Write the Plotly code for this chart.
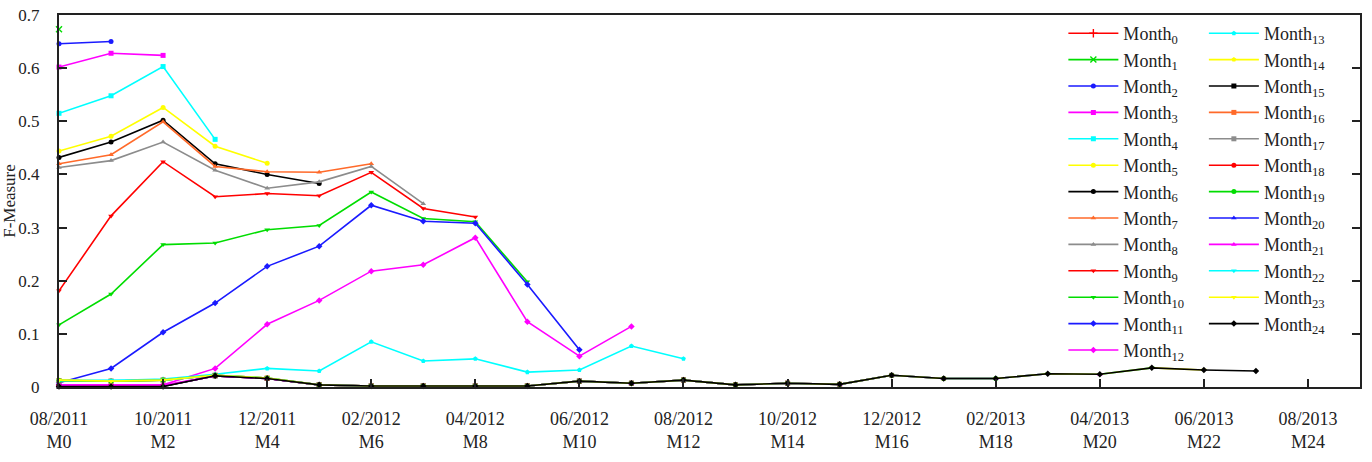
import plotly.graph_objects as go

# ---- data (F-Measure per test month, one series per model month) ----
month0 = [None]
month1 = [0.673]
month2 = [0.646, 0.650]
month3 = [0.602, 0.628, 0.624]
month4 = [0.515, 0.548, 0.603, 0.466]
month5 = [0.444, 0.472, 0.526, 0.453, 0.421]
month6 = [0.432, 0.461, 0.502, 0.420, 0.400, 0.383]
month7 = [0.420, 0.437, 0.499, 0.415, 0.405, 0.404, 0.420]
month8 = [0.413, 0.426, 0.461, 0.408, 0.374, 0.386, 0.415, 0.345]
month9 = [0.181, 0.322, 0.424, 0.358, 0.364, 0.360, 0.404, 0.336, 0.320]
month10 = [0.117, 0.175, 0.268, 0.271, 0.296, 0.304, 0.367, 0.317, 0.311, 0.198]
month11 = [0.008, 0.035, 0.103, 0.158, 0.227, 0.265, 0.342, 0.312, 0.308, 0.193, 0.070]
month12 = [0.004, 0.004, 0.004, 0.035, 0.118, 0.163, 0.218, 0.230, 0.281, 0.123, 0.058, 0.114]
month13 = [0.012, 0.012, 0.015, 0.024, 0.035, 0.030, 0.085, 0.049, 0.053, 0.028, 0.032, 0.077, 0.053]
month14 = [0.013, 0.011, 0.013, 0.022, 0.017, 0.004, 0.002, 0.002, 0.002, 0.002, 0.011, 0.007, 0.013, 0.004]
month15 = [0.001, 0.001, 0.001, 0.021, 0.016, 0.004, 0.002, 0.002, 0.002, 0.002, 0.011, 0.007, 0.013, 0.004, 0.007]
month16 = [0.012, 0.011, 0.013, 0.022, 0.017, 0.004, 0.002, 0.002, 0.002, 0.002, 0.011, 0.007, 0.013, 0.004, 0.007, 0.005]
month17 = [0.012, 0.011, 0.013, 0.022, 0.016, 0.004, 0.002, 0.002, 0.002, 0.002, 0.011, 0.007, 0.013, 0.004, 0.007, 0.005, 0.022]
month18 = [0.002, 0.002, 0.002, 0.021, 0.016, 0.004, 0.002, 0.002, 0.002, 0.002, 0.011, 0.007, 0.013, 0.004, 0.007, 0.005, 0.022, 0.016]
month19 = [0.012, 0.011, 0.013, 0.022, 0.017, 0.004, 0.002, 0.002, 0.002, 0.002, 0.011, 0.007, 0.013, 0.004, 0.007, 0.005, 0.022, 0.016, 0.016]
month20 = [0.002, 0.002, 0.002, 0.021, 0.016, 0.004, 0.002, 0.002, 0.002, 0.002, 0.011, 0.007, 0.013, 0.004, 0.007, 0.005, 0.022, 0.016, 0.016, 0.025]
month21 = [0.003, 0.003, 0.003, 0.021, 0.016, 0.004, 0.002, 0.002, 0.002, 0.002, 0.011, 0.007, 0.013, 0.004, 0.007, 0.005, 0.022, 0.016, 0.016, 0.025, 0.024]
month22 = [0.012, 0.012, 0.013, 0.022, 0.017, 0.004, 0.002, 0.002, 0.002, 0.002, 0.011, 0.007, 0.013, 0.004, 0.007, 0.005, 0.022, 0.016, 0.016, 0.025, 0.024, 0.036]
month23 = [0.013, 0.011, 0.013, 0.022, 0.017, 0.004, 0.002, 0.002, 0.002, 0.002, 0.011, 0.007, 0.013, 0.004, 0.007, 0.005, 0.022, 0.016, 0.016, 0.025, 0.024, 0.036, 0.032]
month24 = [0.001, 0.001, 0.001, 0.021, 0.016, 0.004, 0.002, 0.002, 0.002, 0.002, 0.011, 0.007, 0.013, 0.004, 0.007, 0.005, 0.022, 0.016, 0.016, 0.025, 0.024, 0.036, 0.032, 0.030]

series = [month0, month1, month2, month3, month4, month5, month6, month7, month8,
          month9, month10, month11, month12, month13, month14, month15, month16,
          month17, month18, month19, month20, month21, month22, month23, month24]

tick_months = [0, 2, 4, 6, 8, 10, 12, 14, 16, 18, 20, 22, 24]
tick_dates = ["08/2011", "10/2011", "12/2011", "02/2012", "04/2012", "06/2012", "08/2012",
              "10/2012", "12/2012", "02/2013", "04/2013", "06/2013", "08/2013"]
tick_codes = ["M0", "M2", "M4", "M6", "M8", "M10", "M12", "M14", "M16", "M18", "M20", "M22", "M24"]
y_ticks = [0, 0.1, 0.2, 0.3, 0.4, 0.5, 0.6, 0.7]
y_labels = ["0", "0.1", "0.2", "0.3", "0.4", "0.5", "0.6", "0.7"]

# ---- styles ----
palette = ["#ff0000", "#00dd00", "#1a1aff", "#ff00ff", "#00ffff", "#ffff00",
           "#000000", "#ff6a2a", "#8c8c8c"]
symbols = ["cross-thin", "x-thin", "circle", "square", "square", "circle", "circle",
           "triangle-up", "triangle-up", "triangle-down", "triangle-down", "diamond",
           "diamond", "pentagon", "pentagon", "square", "square", "square", "circle",
           "circle", "triangle-up", "triangle-up", "triangle-down", "triangle-down", "diamond"]

FONT = "Liberation Serif"
TXT = "#222"
fig = go.Figure()
for k, vals in enumerate(series):
    col = palette[k % len(palette)]
    sym = symbols[k]
    thin = sym.endswith("-thin")
    fig.add_trace(go.Scatter(
        x=list(range(len(vals))), y=vals,
        mode="lines+markers",
        name=f"Month<sub>{k}</sub>",
        legend="legend" if k <= 12 else "legend2",
        legendgroup=f"g{k}",
        showlegend=True,
        line=dict(color=col, width=1.6),
        marker=dict(symbol=sym, size=6 if thin else 5, color=col,
                    line=dict(color=col, width=1.4 if thin else 0)),
        cliponaxis=False,
    ))

legend_style = dict(yanchor="top", xanchor="left", y=1.0,
                    bgcolor="rgba(0,0,0,0)", font=dict(family=FONT, size=18, color=TXT),
                    tracegroupgap=0, itemwidth=50)
fig.update_layout(
    width=1372, height=462,
    margin=dict(l=57, r=12, t=6, b=75),
    paper_bgcolor="white", plot_bgcolor="white",
    font=dict(family=FONT, size=18, color=TXT),
    showlegend=True,
    legend=dict(x=0.772, **legend_style),
    legend2=dict(x=0.880, **legend_style),
)
fig.update_xaxes(
    range=[0, 25], showgrid=False, zeroline=False,
    tickmode="array", tickvals=tick_months,
    ticktext=[f"{d}<br>{c}" for d, c in zip(tick_dates, tick_codes)],
    ticks="inside", ticklen=8, tickwidth=1.5, tickcolor=TXT,
    showline=True, linecolor=TXT, linewidth=2, mirror=True,
    ticklabelstandoff=14, tickfont=dict(family=FONT, size=18, color=TXT),
)
fig.update_yaxes(
    range=[0, 0.7], tickmode="array", tickvals=y_ticks, ticktext=y_labels,
    showgrid=False, zeroline=False,
    ticks="inside", ticklen=8, tickwidth=1.5, tickcolor=TXT,
    showline=True, linecolor=TXT, linewidth=2, mirror="ticks",
    ticklabelstandoff=14, ticklabeloverflow="allow",
    tickfont=dict(family=FONT, size=17, color=TXT),
    title=dict(text="F-Measure", font=dict(family=FONT, size=17, color=TXT), standoff=0),
)

fig.write_html("out.html")
